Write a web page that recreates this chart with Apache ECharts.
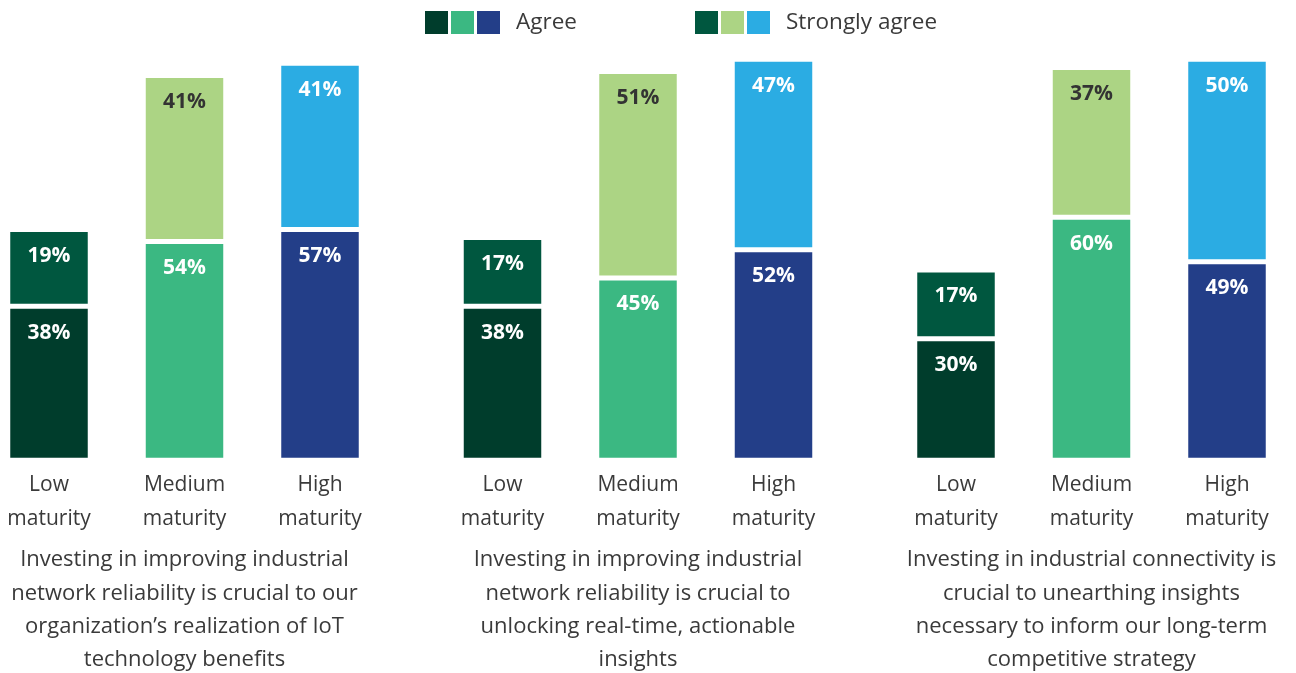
<!DOCTYPE html>
<html>
<head>
<meta charset="utf-8">
<script src="https://cdn.jsdelivr.net/npm/echarts@6/dist/echarts.min.js"></script>
<style>
  html, body { margin: 0; padding: 0; background: #fff; }
  #main { width: 1296px; height: 673px; }
</style>
</head>
<body>
<div id="main"></div>
<script>
// maturity levels (x categories in every panel)
var categories = ['Low\nmaturity', 'Medium\nmaturity', 'High\nmaturity']

// one statement per panel
var statements = [
  'Investing in improving industrial\nnetwork reliability is crucial to our\norganization\u2019s realization of IoT\ntechnology benefits',
  'Investing in improving industrial\nnetwork reliability is crucial to\nunlocking real-time, actionable\ninsights',
  'Investing in industrial connectivity is\ncrucial to unearthing insights\nnecessary to inform our long-term\ncompetitive strategy'
]

// % agree / strongly agree, per panel, ordered Low, Medium, High
var agree1 = [38, 54, 57]
var strong1 = [19, 41, 41]
var agree2 = [38, 45, 52]
var strong2 = [17, 51, 47]
var agree3 = [30, 60, 49]
var strong3 = [17, 37, 50]

var agreeColors = ['#003d2c', '#3bb882', '#233e88']
var strongColors = ['#00573f', '#acd484', '#2bace3']
var strongLabelColors = ['#fff', '#333', '#fff']

var FONT = 'Open Sans'
var TEXT = '#3a3a3a'

var panels = [[agree1, strong1], [agree2, strong2], [agree3, strong3]]
var firstCenter = 49, panelStep = 453.5, band = 135.5

var option = {
  backgroundColor: '#fff',
  animation: false,
  textStyle: { fontFamily: FONT },
  grid: [],
  xAxis: [],
  yAxis: [],
  series: [],
  graphic: []
}

panels.forEach(function (p, k) {
  var center = firstCenter + panelStep * k
  option.grid.push({
    left: center - band / 2,
    width: band * 3,
    top: 55.25,
    height: 405,
    containLabel: false,
    outerBoundsMode: 'none'
  })
  option.xAxis.push({
    type: 'category',
    gridIndex: k,
    data: categories,
    axisLine: { show: false },
    axisTick: { show: false },
    axisLabel: {
      color: TEXT,
      fontFamily: FONT,
      fontSize: 21,
      lineHeight: 34,
      margin: 8,
      interval: 0
    }
  })
  option.yAxis.push({
    type: 'value',
    gridIndex: k,
    min: 0,
    max: 100,
    show: false,
    splitLine: { show: false }
  })
  var mk = function (values, colors, labelColors, name) {
    return {
      name: name,
      type: 'bar',
      xAxisIndex: k,
      yAxisIndex: k,
      stack: 'p' + k,
      barWidth: 82.5,
      data: values.map(function (v, i) {
        return {
          value: v,
          itemStyle: { color: colors[i] },
          label: { color: labelColors[i] }
        }
      }),
      itemStyle: { borderColor: '#fff', borderWidth: 2.5 },
      label: {
        show: true,
        position: 'insideTop',
        distance: 16,
        fontFamily: FONT,
        fontWeight: 'bold',
        fontSize: 21,
        formatter: '{c}%'
      }
    }
  }
  option.series.push(mk(p[0], agreeColors, ['#fff', '#fff', '#fff'], 'Agree'))
  option.series.push(mk(p[1], strongColors, strongLabelColors, 'Strongly agree'))

  option.graphic.push({
    type: 'text',
    x: center + band,
    y: 543.5,
    style: {
      text: statements[k],
      fill: TEXT,
      font: '22px ' + FONT,
      lineHeight: 33.2,
      align: 'center',
      verticalAlign: 'top'
    }
  })
})

// legend: three swatches per response
var legendItems = [
  { x: 425, colors: agreeColors, text: 'Agree', textX: 516 },
  { x: 695, colors: strongColors, text: 'Strongly agree', textX: 786 }
]
legendItems.forEach(function (li) {
  li.colors.forEach(function (c, i) {
    option.graphic.push({
      type: 'rect',
      shape: { x: li.x + i * 26, y: 11, width: 23, height: 23 },
      style: { fill: c }
    })
  })
  option.graphic.push({
    type: 'text',
    x: li.textX,
    y: 22.5,
    style: {
      text: li.text,
      fill: TEXT,
      font: '22.5px ' + FONT,
      verticalAlign: 'middle'
    }
  })
})

var chart = echarts.init(document.getElementById('main'))
chart.setOption(option)
</script>
</body>
</html>
